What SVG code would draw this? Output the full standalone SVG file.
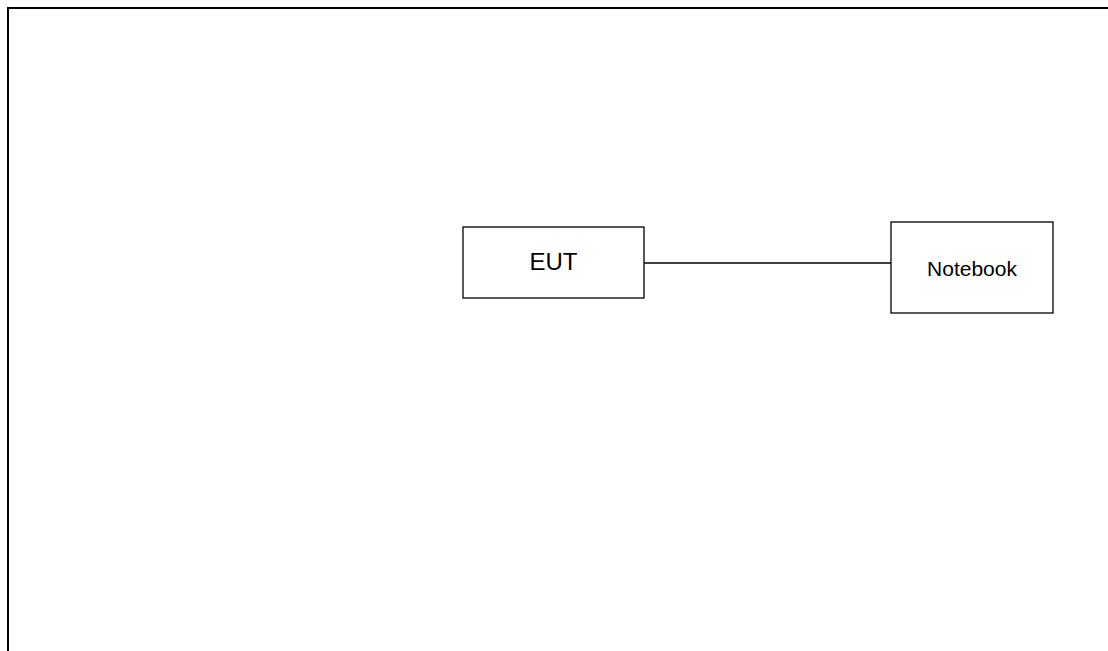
<svg xmlns="http://www.w3.org/2000/svg" width="1108" height="651" viewBox="0 0 1108 651">
  <style>
    .box { fill: #ffffff; stroke: #000000; stroke-width: 1.3; }
    .label { font-family: "Liberation Sans", Arial, sans-serif; fill: #000000; text-anchor: middle; }
    .wire { stroke: #000000; stroke-width: 1.3; fill: none; }
    .frame { stroke: #000000; stroke-width: 2; fill: none; }
  </style>
  <rect width="1108" height="651" fill="#ffffff"/>
  <!-- page frame: top and left edges -->
  <path class="frame" d="M8 651 V8 H1108"/>
  <g id="connectors">
    <line class="wire" x1="644" y1="263" x2="891" y2="263"/>
  </g>
  <g id="eut">
    <rect class="box" x="463" y="227" width="181" height="71"/>
    <text class="label" x="553.5" y="270" font-size="24">EUT</text>
  </g>
  <g id="notebook">
    <rect class="box" x="891" y="222" width="162" height="91"/>
    <text class="label" x="972" y="275.5" font-size="21">Notebook</text>
  </g>
</svg>
